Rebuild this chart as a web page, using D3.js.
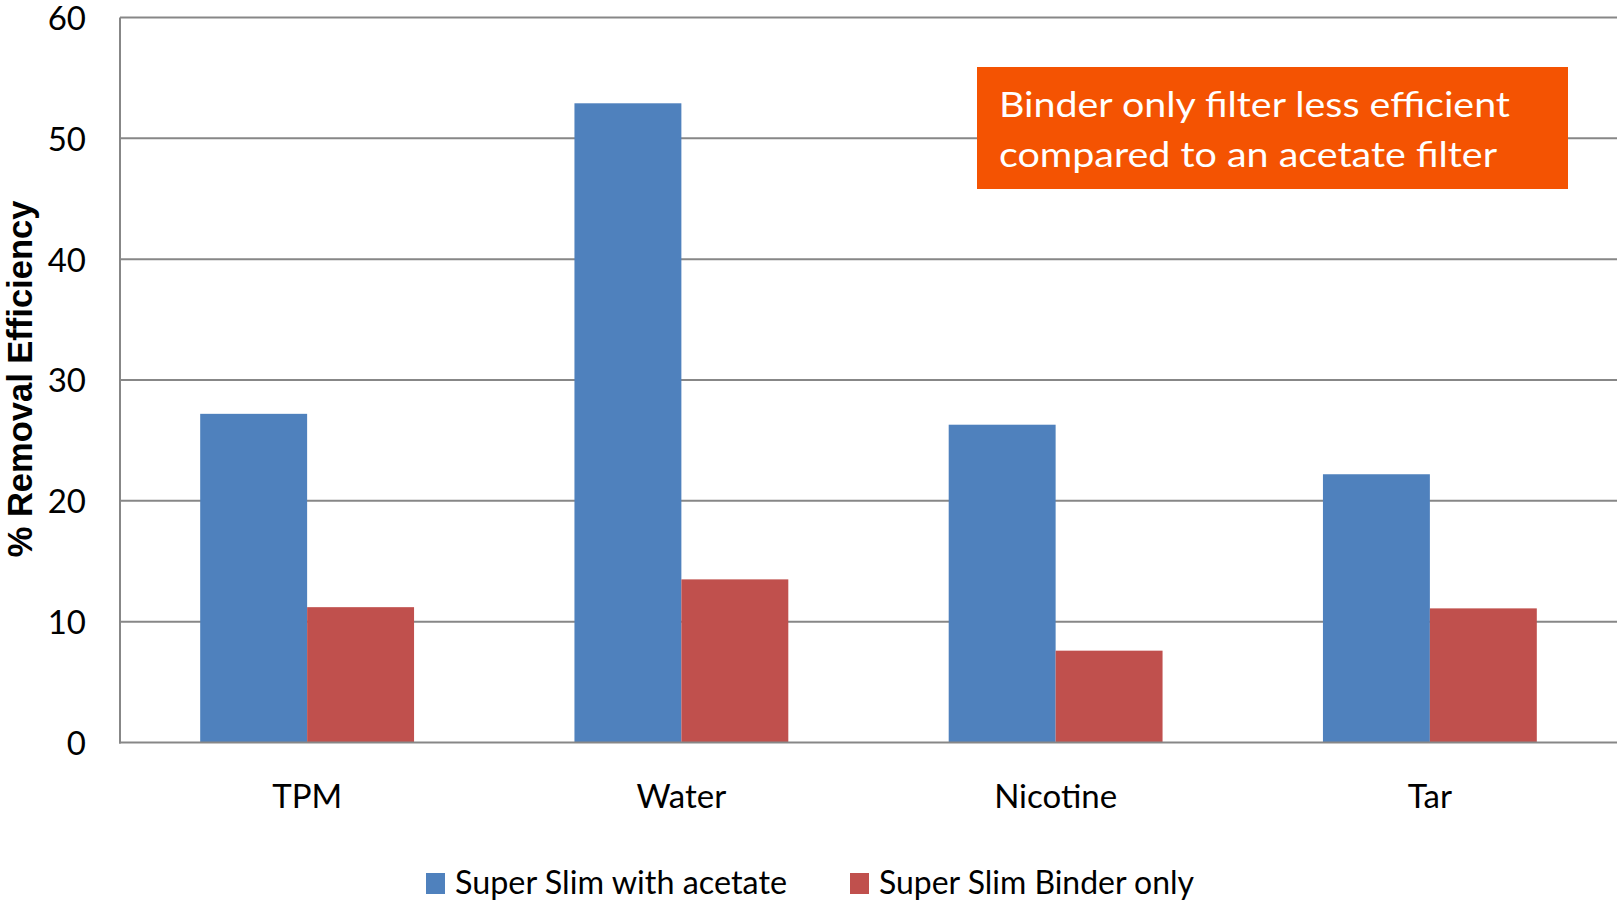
<!DOCTYPE html>
<html>
<head>
<meta charset="utf-8">
<script src="https://cdn.jsdelivr.net/npm/d3@7"></script>
<style>
  html, body { margin: 0; padding: 0; background: #ffffff; }
  svg { display: block; }
</style>
</head>
<body>
<svg id="chart" width="1619" height="908"></svg>
<script>
// Filter removal efficiency by smoke constituent
const categories = ["TPM", "Water", "Nicotine", "Tar"];
const seriesNames = ["Super Slim with acetate", "Super Slim Binder only"];
const withAcetate = [27.2, 52.9, 26.3, 22.2];
const binderOnly = [11.2, 13.5, 7.6, 11.1];
const yTicks = [0, 10, 20, 30, 40, 50, 60];
const yTitle = "% Removal Efficiency";
const noteLines = ["Binder only filter less efficient", "compared to an acetate filter"];

const colors = ["#4F81BD", "#C0504D"];
const gridColor = "#878787";
const bodyFont = "Lato, 'Open Sans', sans-serif";

const svg = d3.select("#chart");

const plot = { left: 120, right: 1617, top: 17.5, bottom: 742.5 };

const y = d3.scaleLinear().domain([0, 60]).range([plot.bottom, plot.top]);

// gap width 150% of a bar: inner padding 1.5/3.5, outer half of that
const x = d3.scaleBand()
  .domain(categories)
  .range([plot.left, plot.right])
  .paddingInner(1.5 / 3.5)
  .paddingOuter(0.75 / 3.5);

const xSeries = d3.scaleBand()
  .domain(seriesNames)
  .range([0, x.bandwidth()]);

// horizontal gridlines
svg.append("g")
  .selectAll("line")
  .data(yTicks.filter(d => d > 0))
  .join("line")
  .attr("x1", plot.left)
  .attr("x2", plot.right)
  .attr("y1", d => y(d))
  .attr("y2", d => y(d))
  .attr("stroke", gridColor)
  .attr("stroke-width", 2);

// bars
const rows = categories.map((c, i) => ({ cat: c, values: [withAcetate[i], binderOnly[i]] }));
svg.append("g")
  .selectAll("g")
  .data(rows)
  .join("g")
  .attr("transform", d => `translate(${x(d.cat)},0)`)
  .selectAll("rect")
  .data(d => d.values.map((v, j) => ({ name: seriesNames[j], value: v, j })))
  .join("rect")
  .attr("x", d => xSeries(d.name))
  .attr("width", xSeries.bandwidth())
  .attr("y", d => y(d.value))
  .attr("height", d => y(0) - y(d.value))
  .attr("fill", d => colors[d.j]);

// axis lines
svg.append("line")
  .attr("x1", plot.left).attr("x2", plot.left)
  .attr("y1", y(60)).attr("y2", y(0) + 1)
  .attr("stroke", gridColor).attr("stroke-width", 2);
svg.append("line")
  .attr("x1", plot.left - 1).attr("x2", plot.right)
  .attr("y1", y(0)).attr("y2", y(0))
  .attr("stroke", gridColor).attr("stroke-width", 2);

// y tick labels
const yAxis = d3.axisLeft(y).tickValues(yTicks).tickSize(0).tickPadding(34).tickFormat(d3.format("d"));
const yAxisG = svg.append("g").attr("transform", `translate(${plot.left},0)`).call(yAxis);
yAxisG.select(".domain").remove();
yAxisG.selectAll("text")
  .attr("font-family", bodyFont)
  .attr("font-size", 33)
  .attr("fill", "#000")
  .attr("dy", "0.36em");

// x category labels
const xAxis = d3.axisBottom(x).tickSize(0).tickPadding(0);
const xAxisG = svg.append("g").attr("transform", `translate(0,${plot.bottom})`).call(xAxis);
xAxisG.select(".domain").remove();
xAxisG.selectAll("text")
  .attr("font-family", bodyFont)
  .attr("font-size", 33)
  .attr("fill", "#000")
  .attr("y", 65.5)
  .attr("dy", 0);

// y axis title
svg.append("text")
  .attr("transform", `translate(32,${(201 + 557) / 2}) rotate(-90)`)
  .attr("text-anchor", "middle")
  .attr("font-family", "'Liberation Sans', Arial, sans-serif")
  .attr("font-weight", "bold")
  .attr("font-size", 34.5)
  .attr("fill", "#000")
  .text(yTitle);

// annotation box
const note = svg.append("g");
note.append("rect")
  .attr("x", 977).attr("y", 67)
  .attr("width", 591).attr("height", 122)
  .attr("fill", "#F45302");
note.selectAll("text")
  .data(noteLines)
  .join("text")
  .attr("x", 999)
  .attr("y", (d, i) => 116.5 + i * 50.5)
  .attr("font-family", bodyFont)
  .attr("font-size", 35)
  .attr("fill", "#ffffff")
  .attr("textLength", (d, i) => [511, 498][i])
  .attr("lengthAdjust", "spacingAndGlyphs")
  .text(d => d);

// legend
const legendX = [426, 850];
const legendW = [332, 315];
const legend = svg.append("g")
  .selectAll("g")
  .data(seriesNames)
  .join("g")
  .attr("transform", (d, i) => `translate(${legendX[i]},0)`);
legend.append("rect")
  .attr("x", 0).attr("y", 873)
  .attr("width", 19).attr("height", 21)
  .attr("fill", (d, i) => colors[i]);
legend.append("text")
  .attr("x", 29)
  .attr("y", 894)
  .attr("font-family", bodyFont)
  .attr("font-size", 33)
  .attr("fill", "#000")
  .attr("textLength", (d, i) => legendW[i])
  .attr("lengthAdjust", "spacingAndGlyphs")
  .text(d => d);
</script>
</body>
</html>
